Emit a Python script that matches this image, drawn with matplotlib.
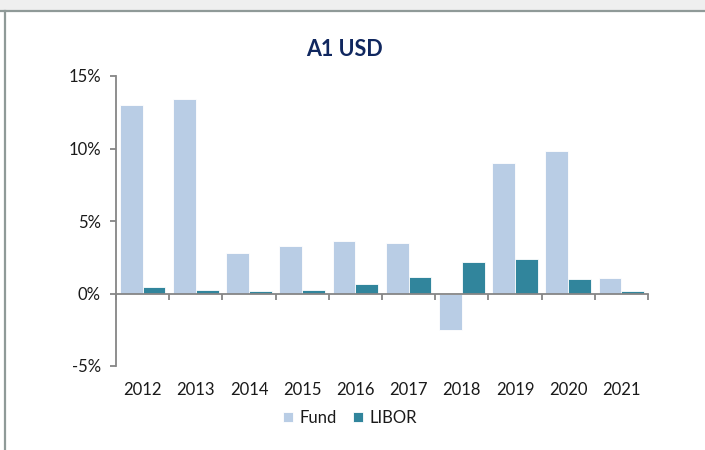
import matplotlib
matplotlib.use("Agg")
import matplotlib.pyplot as plt
import numpy as np
from matplotlib.patches import Rectangle
from matplotlib.lines import Line2D

years = ["2012", "2013", "2014", "2015", "2016", "2017", "2018", "2019", "2020", "2021"]
fund = [13.0, 13.4, 2.8, 3.3, 3.65, 3.45, -2.5, 9.0, 9.8, 1.05]
libor = [0.42, 0.22, 0.15, 0.22, 0.65, 1.15, 2.2, 2.4, 0.97, 0.17]
yticks = [-5, 0, 5, 10, 15]
ytick_labels = ["-5%", "0%", "5%", "10%", "15%"]

plt.rcParams['font.family'] = ['Lato', 'DejaVu Sans']

W, H = 705, 450
fig = plt.figure(figsize=(W / 100, H / 100), dpi=100)

# sheet-like frame
fig.patches.append(Rectangle((0, 1 - 10 / H), 1, 10 / H, transform=fig.transFigure,
                             facecolor='#efefef', edgecolor='none', zorder=0))
fig.lines.append(Line2D([0, 1], [1 - 10.5 / H, 1 - 10.5 / H], transform=fig.transFigure,
                        color='#8f9a98', lw=1.6))
fig.lines.append(Line2D([4.5 / W, 4.5 / W], [0, 1 - 10.5 / H], transform=fig.transFigure,
                        color='#8f9a98', lw=1.6))

ax = fig.add_axes([116 / W, 1 - 366 / H, (648 - 116) / W, (366 - 76) / H])

x = np.arange(len(years))
bw = 0.43
c_fund = '#b9cde5'
c_libor = '#31859c'
ax.bar(x - bw / 2, fund, bw, color=c_fund, edgecolor='white', linewidth=0.6, label='Fund', zorder=2)
ax.bar(x + bw / 2, libor, bw, color=c_libor, edgecolor='white', linewidth=0.6, label='LIBOR', zorder=2)

ax.set_xlim(-0.5, len(years) - 0.5)
ax.set_ylim(-5, 15)

axis_c = '#868686'
txt_c = '#1a1a1a'
for s in ['top', 'right']:
    ax.spines[s].set_visible(False)
ax.spines['bottom'].set_position(('data', 0))
ax.spines['bottom'].set_color(axis_c)
ax.spines['bottom'].set_linewidth(1.3)
ax.spines['bottom'].set_zorder(3)
ax.spines['left'].set_color(axis_c)
ax.spines['left'].set_linewidth(1.3)

ax.set_yticks(yticks)
ax.set_yticklabels(ytick_labels)
ax.tick_params(axis='y', direction='out', length=4, width=1.3, color=axis_c,
               labelsize=12, labelcolor=txt_c, pad=7)

ax.set_xticks(np.arange(-0.5, len(years), 1.0))
ax.set_xticklabels([])
ax.tick_params(axis='x', direction='out', length=4, width=1.3, color=axis_c)

for i, yr in enumerate(years):
    ax.annotate(yr, xy=(i, 0), xycoords=('data', 'axes fraction'),
                xytext=(0, -24 * 72 / 100), textcoords='offset points',
                ha='center', va='center', fontsize=12, color=txt_c)

fig.text(345 / W, 1 - 50 / H, 'A1 USD', ha='center', va='center',
         fontsize=15.5, fontweight='bold', color='#10275f')

fig.legend(loc='center', bbox_to_anchor=(350 / W, 1 - 418 / H), ncol=2, frameon=False,
           fontsize=12, handlelength=0.6, handleheight=0.6, handletextpad=0.4,
           columnspacing=1.0, labelcolor=txt_c)

fig.savefig('out.png', dpi=100)
